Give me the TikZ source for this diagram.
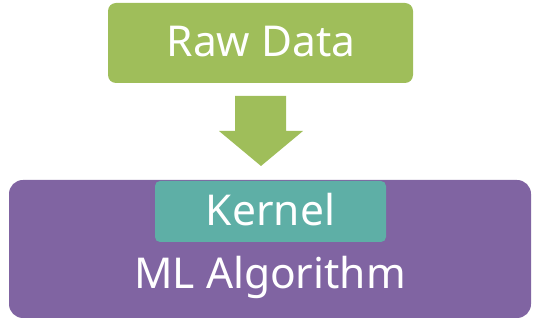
\documentclass[tikz,border=0pt]{standalone}
\usepackage{fontspec}
\setmainfont{Noto Sans}
\definecolor{rawgreen}{RGB}{159,190,90}
\definecolor{algpurple}{RGB}{128,100,162}
\definecolor{kernteal}{RGB}{94,175,166}
\begin{document}
\begin{tikzpicture}[x=1pt,y=-1pt,
  label/.style={text=white,font=\fontsize{42.5}{46}\selectfont,inner sep=0pt}]
\useasboundingbox (0,0) rectangle (539,320);
% input block
\fill[rawgreen,rounded corners=8pt] (108,3) rectangle (413,83);
\node[label] (raw) at (261,42) {Raw Data};
% block arrow pointing down
\fill[rawgreen] (235,96) -- (286,96) -- (286,131) -- (303,131) -- (261,166)
  -- (219,131) -- (235,131) -- cycle;
% algorithm block with embedded kernel
\fill[algpurple,rounded corners=14pt] (9,180) rectangle (531,318);
\fill[kernteal,rounded corners=5pt] (155,181) rectangle (386,242);
\node[label] (kern) at (270.5,210) {Kernel};
\node[label] (alg) at (270,277) {ML Algorithm};
\end{tikzpicture}
\end{document}
